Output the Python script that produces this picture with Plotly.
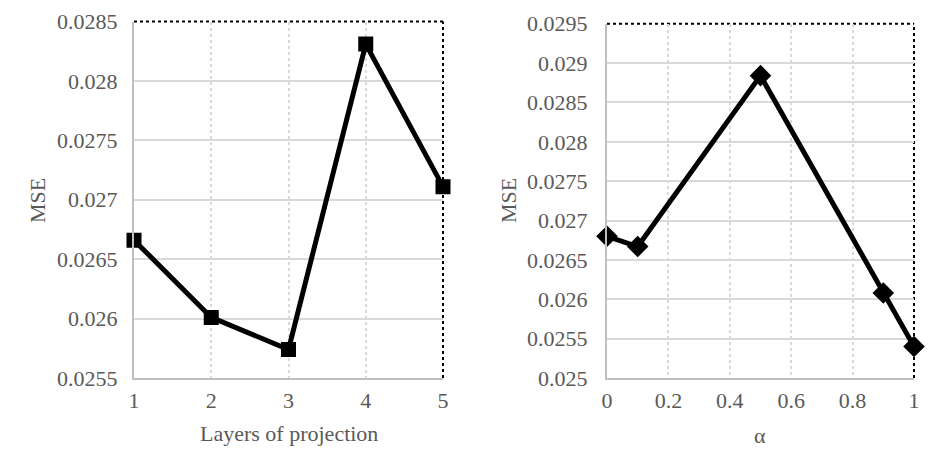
import plotly.graph_objects as go

layers = [1, 2, 3, 4, 5]
mse_layers = [0.02666, 0.02601, 0.02574, 0.02831, 0.02711]

alpha = [0, 0.1, 0.5, 0.9, 1]
mse_alpha = [0.02680, 0.02667, 0.02884, 0.02608, 0.02540]

y1_ticks = [0.0255, 0.026, 0.0265, 0.027, 0.0275, 0.028, 0.0285]
y1_text = ["0.0255", "0.026", "0.0265", "0.027", "0.0275", "0.028", "0.0285"]
x1_ticks = [1, 2, 3, 4, 5]
x1_text = ["1", "2", "3", "4", "5"]

y2_ticks = [0.025, 0.0255, 0.026, 0.0265, 0.027, 0.0275, 0.028, 0.0285, 0.029, 0.0295]
y2_text = ["0.025", "0.0255", "0.026", "0.0265", "0.027", "0.0275", "0.028", "0.0285", "0.029", "0.0295"]
x2_ticks = [0, 0.2, 0.4, 0.6, 0.8, 1]
x2_text = ["0", "0.2", "0.4", "0.6", "0.8", "1"]

OFF = 8  # page body margin
W, H = 941 - OFF, 472 - OFF
FONT = "Liberation Serif"
TXT = "#595959"
GRID = "#d9d9d9"
AXL = "#bfbfbf"


def px(v):
    return (v - OFF) / W


def py(v):
    return 1 - (v - OFF) / H


fig = go.Figure()
fig.add_trace(go.Scatter(x=layers, y=mse_layers, mode="lines+markers",
                         line=dict(color="black", width=5),
                         marker=dict(symbol="square", size=12, color="black",
                                     line=dict(color="black", width=3)),
                         xaxis="x", yaxis="y", showlegend=False, cliponaxis=False))
fig.add_trace(go.Scatter(x=alpha, y=mse_alpha, mode="lines+markers",
                         line=dict(color="black", width=5),
                         marker=dict(symbol="diamond", size=15, color="black",
                                     line=dict(color="black", width=1.5)),
                         xaxis="x2", yaxis="y2", showlegend=False, cliponaxis=False))

d1x = [px(134), px(443)]
d1y = [py(378), py(21.5)]
d2x = [px(607), px(914)]
d2y = [py(378), py(23.7)]

tickfont = dict(family=FONT, size=22, color=TXT)


def xax(dom, rng, tv, tt, anchor):
    return dict(domain=dom, range=rng, tickvals=tv, ticktext=tt, anchor=anchor,
                showgrid=True, gridcolor=GRID, griddash="dot", gridwidth=1.5,
                showline=True, linecolor=AXL, linewidth=2, zeroline=False,
                ticks="outside", ticklen=2, tickcolor="rgba(0,0,0,0)",
                tickfont=tickfont, automargin=False)


def yax(dom, rng, tv, tt, anchor, tl):
    return dict(domain=dom, range=rng, tickvals=tv, ticktext=tt, anchor=anchor,
                showgrid=True, gridcolor=GRID, gridwidth=2,
                showline=True, linecolor=AXL, linewidth=2, zeroline=False,
                ticks="outside", ticklen=tl, tickcolor="rgba(0,0,0,0)",
                tickfont=tickfont, automargin=False)


fig.update_layout(
    width=W, height=H,
    margin=dict(l=0, r=0, t=0, b=0),
    font=dict(family=FONT, color=TXT, size=22),
    paper_bgcolor="white", plot_bgcolor="white",
    xaxis=xax(d1x, [1, 5], x1_ticks, x1_text, "y"),
    yaxis=yax(d1y, [0.0255, 0.0285], y1_ticks, y1_text, "x", 10),
    xaxis2=xax(d2x, [0, 1], x2_ticks, x2_text, "y2"),
    yaxis2=yax(d2y, [0.025, 0.0295], y2_ticks, y2_text, "x2", 13),
)

dot = dict(color="black", width=2, dash="dot")
for xr, yr in [("x domain", "y domain"), ("x2 domain", "y2 domain")]:
    fig.add_shape(type="line", xref=xr, yref=yr, x0=0, x1=1, y0=1, y1=1, line=dot, layer="below")
    fig.add_shape(type="line", xref=xr, yref=yr, x0=1, x1=1, y0=0, y1=1, line=dot, layer="below")

titlefont = dict(family=FONT, size=22, color=TXT)
fig.add_annotation(text="Layers of projection", xref="paper", yref="paper",
                   x=(d1x[0] + d1x[1]) / 2, y=py(433), showarrow=False,
                   font=titlefont, xanchor="center", yanchor="middle")
fig.add_annotation(text="MSE", xref="paper", yref="paper",
                   x=px(38), y=py(200), showarrow=False, textangle=-90,
                   font=titlefont, xanchor="center", yanchor="middle")
fig.add_annotation(text="α", xref="paper", yref="paper",
                   x=(d2x[0] + d2x[1]) / 2, y=py(435), showarrow=False,
                   font=titlefont, xanchor="center", yanchor="middle")
fig.add_annotation(text="MSE", xref="paper", yref="paper",
                   x=px(509), y=py(200), showarrow=False, textangle=-90,
                   font=titlefont, xanchor="center", yanchor="middle")

fig.write_html("out.html")
